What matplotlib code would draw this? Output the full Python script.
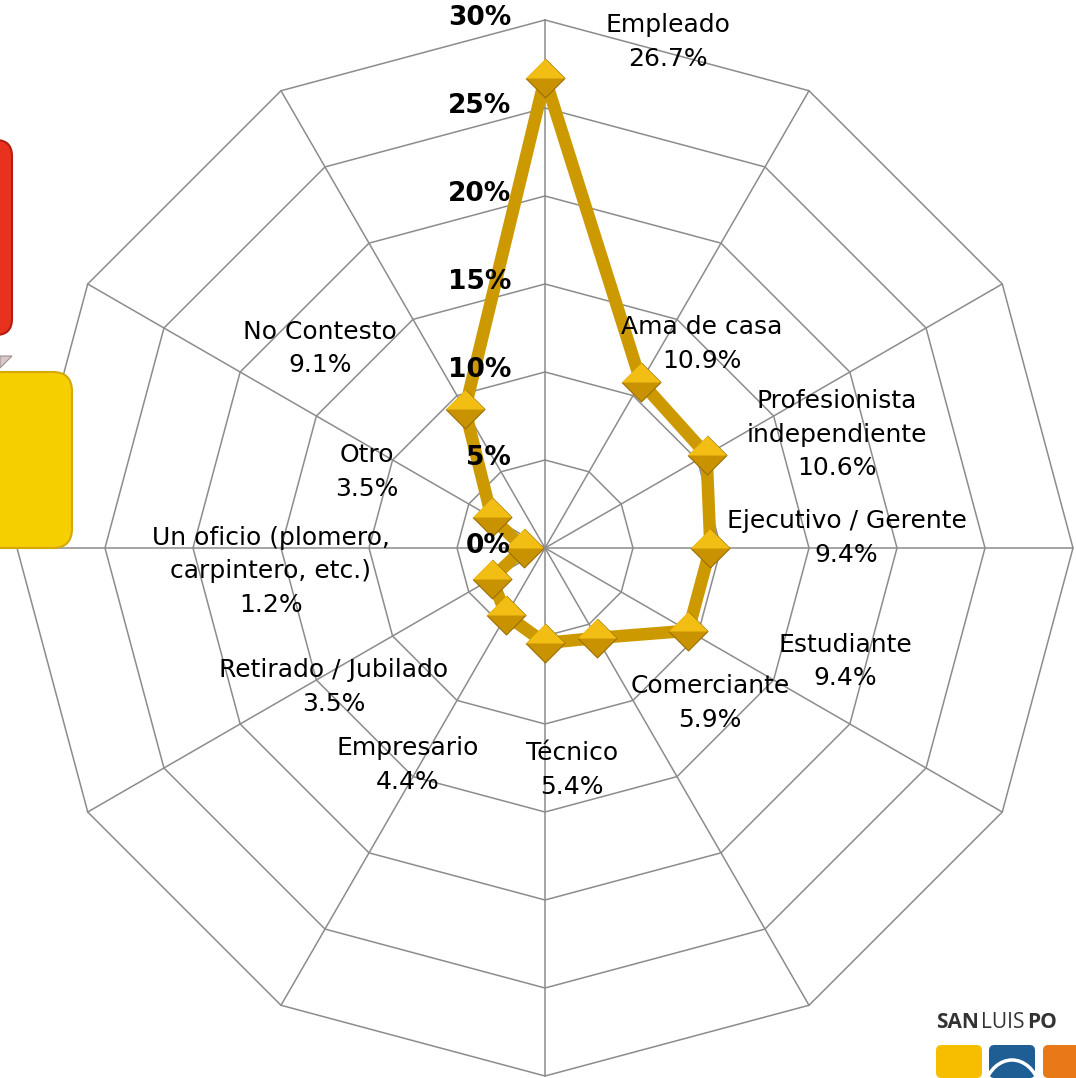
import numpy as np
import matplotlib
matplotlib.use("Agg")
import matplotlib.pyplot as plt
from matplotlib.patches import FancyBboxPatch, Polygon, Arc

categories = ["Empleado", "Ama de casa", "Profesionista\nindependiente",
              "Ejecutivo / Gerente", "Estudiante", "Comerciante", "Técnico",
              "Empresario", "Retirado / Jubilado",
              "Un oficio (plomero,\ncarpintero, etc.)", "Otro", "No Contesto"]
values = [26.7, 10.9, 10.6, 9.4, 9.4, 5.9, 5.4, 4.4, 3.5, 1.2, 3.5, 9.1]
ticks = [0, 5, 10, 15, 20, 25, 30]
tick_labels = ["0%", "5%", "10%", "15%", "20%", "25%", "30%"]

# label offsets from each point, in pixels (dx right, dy down)
label_offsets = [(123, -36), (61, -38), (130, -20), (136, -10), (157, 31),
                 (113, 65), (27, 127), (-99, 150), (-158, 108), (-253, 23),
                 (-125, -45), (-145, -61)]

W, H = 1076, 1078
cx, cy = 545, 548          # chart centre in pixels
ppu = 88 / 5.0             # pixels per percentage point

fig = plt.figure(figsize=(W / 100, H / 100), dpi=100)
ax = fig.add_axes([0, 0, 1, 1])
ax.set_xlim(-cx / ppu, (W - cx) / ppu)
ax.set_ylim(-(H - cy) / ppu, cy / ppu)
ax.axis("off")

n = len(categories)
ang = np.arange(n) * 2 * np.pi / n
sx, sy = np.sin(ang), np.cos(ang)

# slide decorations on the left edge
fig.patches.append(FancyBboxPatch((-40 / W, 1 - 335 / H), 52 / W, 195 / H,
                                  boxstyle="round,pad=0,rounding_size=0.015",
                                  transform=fig.transFigure, fc="#E8321E",
                                  ec="#B01E10", lw=1.5, zorder=0))
fig.patches.append(FancyBboxPatch((-40 / W, 1 - 548 / H), 112 / W, 176 / H,
                                  boxstyle="round,pad=0,rounding_size=0.018",
                                  transform=fig.transFigure, fc="#F5CF00",
                                  ec="#D6A800", lw=1.5, zorder=0))
fig.patches.append(Polygon([(0, 1 - 356 / H), (12 / W, 1 - 356 / H),
                            (0, 1 - 368 / H)], closed=True,
                           transform=fig.transFigure, fc="#D8C8C8",
                           ec="#A09090", lw=0.8, zorder=0))

# polygon grid and spokes
for t in ticks[1:]:
    gx = np.append(t * sx, t * sx[0])
    gy = np.append(t * sy, t * sy[0])
    ax.plot(gx, gy, color="#8C8C8C", lw=1.1, zorder=1)
for i in range(n):
    ax.plot([0, ticks[-1] * sx[i]], [0, ticks[-1] * sy[i]],
            color="#8C8C8C", lw=1.1, zorder=1)

for t, lab in zip(ticks, tick_labels):
    ax.text(-34 / ppu, t + 0.1, lab, ha="right", va="center",
            fontsize=19, fontweight="bold", color="black", zorder=4)

# data series
v = np.array(values)
px, py = v * sx, v * sy
ax.plot(np.append(px, px[0]), np.append(py, py[0]), color="#CC9A00",
        lw=9, solid_joinstyle="miter", zorder=2)
diamond = [(0, 1), (1, 0), (0, -1), (-1, 0)]
top_half = [(-1, 0), (0, 1), (1, 0)]
ax.plot(px, py, ls="none", marker=diamond, ms=28, mfc="#C99200",
        mec="#9A6E00", mew=0.8, zorder=3)
ax.plot(px, py, ls="none", marker=top_half, ms=28, mfc="#F2BE14",
        mec="none", zorder=3)

for i in range(n):
    dx, dy = label_offsets[i]
    ax.annotate(f"{categories[i]}\n{values[i]}%", (px[i], py[i]),
                xytext=(dx * 0.72, -dy * 0.72), textcoords="offset points",
                ha="center", va="center", fontsize=18, linespacing=1.5,
                color="black", zorder=5)

# logo in the lower right corner
logo_font = ["Open Sans", "DejaVu Sans"]
fig.text(936 / W, 1 - 1023 / H, "SAN", fontsize=15, fontweight="bold",
         family=logo_font, color="#333333", va="center")
fig.text(981 / W, 1 - 1023 / H, "LUIS", fontsize=15, family=logo_font,
         color="#333333", va="center")
fig.text(1027 / W, 1 - 1023 / H, "PO", fontsize=15, fontweight="bold",
         family=logo_font, color="#333333", va="center")
for x0, c in [(936, "#F7BE00"), (989, "#1F5E95"), (1043, "#E87818")]:
    fig.patches.append(FancyBboxPatch((x0 / W, 1 - 1078 / H), 46 / W, 33 / H,
                                      boxstyle="round,pad=0,rounding_size=0.005",
                                      transform=fig.transFigure, fc=c,
                                      ec="none", zorder=0))
fig.patches.append(Arc((1012 / W, 1 - 1100 / H), 60 / W, 80 / H, theta1=30,
                       theta2=150, transform=fig.transFigure, color="white",
                       lw=2.5))

fig.savefig("out.png", dpi=100, facecolor="white")
